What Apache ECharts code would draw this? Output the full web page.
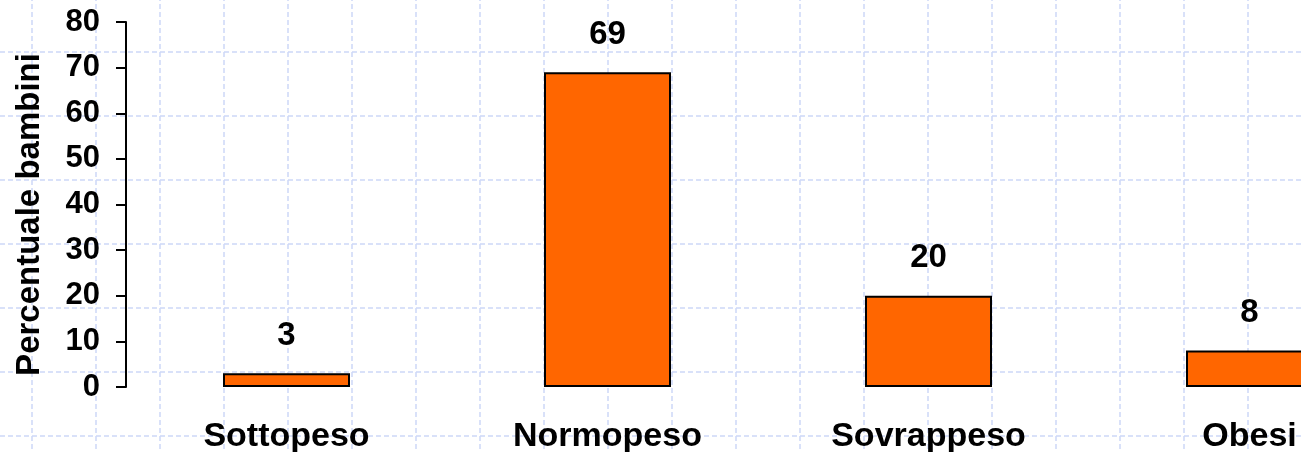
<!DOCTYPE html>
<html>
<head>
<meta charset="utf-8">
<script src="https://cdn.jsdelivr.net/npm/echarts@6/dist/echarts.min.js"></script>
<style>
html,body{margin:0;padding:0;background:#fff;}
#chart{width:1301px;height:452px;}
</style>
</head>
<body>
<div id="chart"></div>
<script>
var categories = ['Sottopeso', 'Normopeso', 'Sovrappeso', 'Obesi'];
var values = [3, 69, 20, 8];
var yTicks = [0, 10, 20, 30, 40, 50, 60, 70, 80];
var yAxisTitle = 'Percentuale bambini';

var FONT = '"Liberation Sans", Arial, sans-serif';
var chart = echarts.init(document.getElementById('chart'), null, {renderer: 'canvas'});
var bgLine = {show: true, lineStyle: {color: '#cdd8f7', width: 1.5, type: [5, 3]}};
chart.setOption({
  backgroundColor: '#ffffff',
  animation: false,
  grid: [
    {left: 126, top: 22, width: 1284, height: 365, containLabel: false, outerBoundsMode: 'none'},
    {left: -32, top: -12, width: 1344, height: 512, z: 0, outerBoundsMode: 'none'}
  ],
  xAxis: [
    {
      type: 'category', gridIndex: 0, data: categories,
      axisLine: {show: false}, axisTick: {show: false},
      axisLabel: {color: '#000', fontFamily: FONT, fontWeight: 'bold', fontSize: 34, margin: 33},
      splitLine: {show: false}
    },
    {
      type: 'value', gridIndex: 1, min: 0, max: 1344, interval: 64, z: 0,
      axisLine: {show: false}, axisTick: {show: false}, axisLabel: {show: false},
      splitLine: bgLine
    }
  ],
  yAxis: [
    {
      type: 'value', gridIndex: 0, min: yTicks[0], max: yTicks[yTicks.length - 1], interval: 10,
      name: yAxisTitle, nameLocation: 'middle', nameRotate: 90, nameGap: 80,
      nameTextStyle: {color: '#000', fontFamily: FONT, fontWeight: 'bold', fontSize: 33, padding: [0, 20, 0, 0]},
      axisLine: {show: true, lineStyle: {color: '#000', width: 2}},
      axisTick: {show: true, inside: false, length: 10, lineStyle: {color: '#000', width: 2}},
      axisLabel: {color: '#000', fontFamily: FONT, fontWeight: 'bold', fontSize: 31, margin: 26},
      splitLine: {show: false}
    },
    {
      type: 'value', gridIndex: 1, min: 0, max: 512, interval: 64, z: 0,
      axisLine: {show: false}, axisTick: {show: false}, axisLabel: {show: false},
      splitLine: bgLine
    }
  ],
  series: [{
    type: 'bar', xAxisIndex: 0, yAxisIndex: 0, data: values, barWidth: 127, z: 5,
    itemStyle: {color: '#FF6600', borderColor: '#000', borderWidth: 2},
    label: {show: true, position: 'top', distance: 21, color: '#000', fontFamily: FONT, fontWeight: 'bold', fontSize: 33}
  }]
});
</script>
</body>
</html>
